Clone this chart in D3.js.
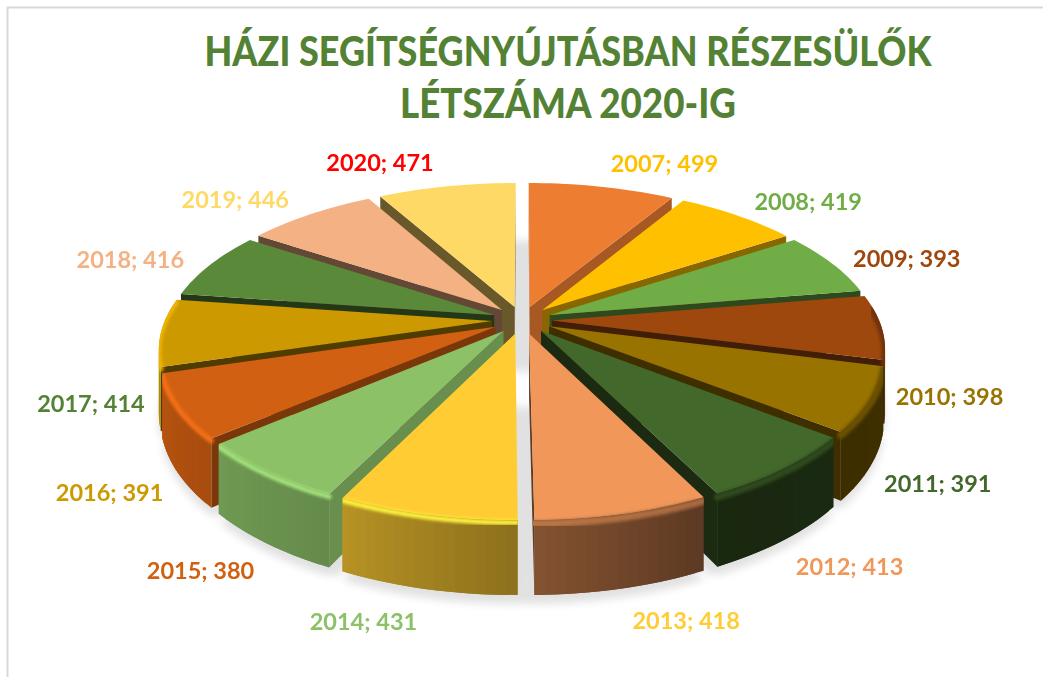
<!DOCTYPE html>
<html><head><meta charset="utf-8">
<script src="https://cdn.jsdelivr.net/npm/d3@7"></script>
<style>html,body{margin:0;padding:0;background:#fff;overflow:hidden}svg{display:block}</style>
</head><body><svg id="c" width="1043" height="677"></svg>
<script>
const titleLines = ["HÁZI SEGÍTSÉGNYÚJTÁSBAN RÉSZESÜLŐK", "LÉTSZÁMA 2020-IG"];
const years = [2007,2008,2009,2010,2011,2012,2013,2014,2015,2016,2017,2018,2019,2020];
const values = [499,419,393,398,391,413,418,431,380,391,414,416,446,471];
const sliceColors = ["#ed7d31","#ffc000","#70ad47","#9e480e","#997300","#43682b","#f1975a","#ffcd33","#8cc168","#d26012","#cc9a00","#5a8a39","#f4b183","#ffd966"];
const labelColors = ["#ffc000","#70ad47","#9e480e","#997300","#43682b","#f1975a","#ffcd33","#8cc168","#d26012","#cc9a00","#548235","#f4b183","#ffd966","#ff0000"];

const svg = d3.select("#c");
const defs = svg.append("defs");
const cx = 522, cy = 320, W = 357, explode = 30, R = W - explode, tilt = 163, persp = 0.187, H = 61;
const deg = 180 / Math.PI, STEP = 1.5 / deg;

const f = defs.append("filter").attr("id","soft").attr("x","-10%").attr("y","-10%").attr("width","120%").attr("height","130%");
f.append("feGaussianBlur").attr("stdDeviation",4);
const b = defs.append("filter").attr("id","bevel").attr("x","-10%").attr("y","-10%").attr("width","120%").attr("height","120%");
b.append("feGaussianBlur").attr("stdDeviation",1.6);

// frame
svg.append("rect").attr("x",7.5).attr("y",7.5).attr("width",1200).attr("height",900)
  .attr("fill","none").attr("stroke","#d9d9d9").attr("stroke-width",2);

// title
const titleWidths = [727, 336];
svg.append("g").selectAll("text").data(titleLines).join("text")
  .attr("x",568).attr("y",(d,i)=>66+i*52).attr("text-anchor","middle")
  .attr("textLength",(d,i)=>titleWidths[i]).attr("lengthAdjust","spacingAndGlyphs")
  .attr("font-family","Lato, 'Noto Sans', sans-serif").attr("font-weight",900).attr("font-size",41)
  .attr("fill","#548235").text(d=>d);

// projection of disc coordinates (u right, v towards viewer) to the picture
function project(u, v, drop) {
  const d = v / W, s = 1 / (1 - persp * d);
  return [cx + u * s, cy + tilt * d * s + (drop || 0) * s];
}
const line = d3.line();
const shade = (c, k) => { const q = d3.rgb(c); return d3.rgb(q.r*k, q.g*k, q.b*k).formatHex(); };
const rimShade = d3.scaleLinear().domain([0,90,154,180,206,230,270,360]).range([.5,.42,.38,.55,.72,.8,.92,.6]).clamp(true);
const startWall = d3.scaleLinear().domain([180,206,229,253,360]).range([.8,.74,.58,.39,.42]).clamp(true);
const endWall = d3.scaleLinear().domain([0,30,56,80,180]).range([.85,.71,.54,.42,.4]).clamp(true);

const arcs = d3.pie().sort(null).value(d=>d)(values).map((a,i)=>{
  const mid = (a.startAngle + a.endAngle) / 2;
  const ax = explode * Math.sin(mid), ay = -explode * Math.cos(mid);
  const rim = d3.range(a.startAngle, a.endAngle, STEP).concat([a.endAngle])
    .map(t => ({t, u: ax + R*Math.sin(t), v: ay - R*Math.cos(t)}));
  return {i, mid, a, ax, ay, rim, color: sliceColors[i]};
});

// shadow dropped on the ground under every slice
const shadow = svg.append("g").attr("filter","url(#soft)").attr("opacity",.12);
arcs.forEach(s=>{
  const pts = [project(s.ax,s.ay,H*1.12)].concat(s.rim.map(p=>project(p.u,p.v,H*1.12)));
  const shift = Math.sin(s.mid) > 0 ? -8 : 8;
  [0, shift].forEach(dx=>shadow.append("path").attr("d",line(pts)+"Z").attr("fill","#000").attr("transform",`translate(${dx},0)`));
});

// slices, painted from back to front
const order = arcs.slice().sort((p,q)=>d3.ascending(-Math.cos(p.mid), -Math.cos(q.mid)));
order.forEach(s=>{
  const g = svg.append("g");
  const topPts = [project(s.ax,s.ay)].concat(s.rim.map(p=>project(p.u,p.v)));
  const clip = defs.append("clipPath").attr("id","clip"+s.i);
  const quad = (p,q)=>[project(p.u,p.v),project(q.u,q.v),project(q.u,q.v,H),project(p.u,p.v,H)];
  const apex = {u:s.ax,v:s.ay};
  const first = s.rim[0], last = s.rim[s.rim.length-1];
  const addWall = (p,q,col,over)=>{
    const pts = quad(p,q);
    if (pts[1][0] - pts[0][0] >= 0) return;   // only faces turned to the viewer
    const full = over ? quad(p,over) : pts;   // overlaps the next strip, so no seams show
    g.append("path").attr("d",line(full)+"Z").attr("fill",col);
    clip.append("path").attr("d",line(full)+"Z");
  };
  addWall(apex, first, shade(s.color, startWall(s.a.startAngle*deg)));
  addWall(last, apex, shade(s.color, endWall(s.a.endAngle*deg)));
  d3.pairs(s.rim).forEach(([p,q],j)=>addWall(p,q,shade(s.color, rimShade((p.t+q.t)/2*deg)), s.rim[Math.min(j+2,s.rim.length-1)]));
  g.append("path").attr("d",line(topPts)+"Z").attr("fill",s.color);
  clip.append("path").attr("d",line(topPts)+"Z");
  // soft bevel along the front part of the rim
  const bev = g.append("g").attr("clip-path","url(#clip"+s.i+")").append("g").attr("filter","url(#bevel)");
  d3.pairs(s.rim).forEach(([p,q])=>{
    const t = (p.t+q.t)/2*deg;
    if (t < 85 || t > 278) return;
    const light = t >= 180;
    const a1 = project(p.u,p.v,light?2:3), a2 = project(q.u,q.v,light?2:3);
    const col = light ? d3.rgb(s.color).brighter(.45).formatHex()
                      : d3.interpolateRgb(s.color, shade(s.color,rimShade(t)))(.5);
    bev.append("line").attr("x1",a1[0]).attr("y1",a1[1]).attr("x2",a2[0]).attr("y2",a2[1])
      .attr("stroke",col).attr("stroke-width",light?5:7).attr("stroke-linecap","round");
  });
});

// data labels: placed outside the rim, below it for the front half
const labelBack = d3.scaleLinear().domain([.847,.88,.935]).range([-23,-14,-5]);
const labelFront = d3.scaleLinear().domain([1,1.22]).range([69,107]);
svg.append("g").selectAll("text").data(arcs).join("text")
  .each(function(s){
    const u = W*Math.sin(s.mid), v = -W*Math.cos(s.mid), d = v/W, sc = 1/(1-persp*d);
    const p = project(u,v), au = Math.abs(Math.sin(s.mid));
    const dx = d < 0 ? (u>0 ? 58+18*au : -(62+19*au)) : (u>0 ? 62+6*au : -(61+9*au));
    d3.select(this).attr("x",p[0]+dx).attr("y",p[1]+(d>0?labelFront(sc):labelBack(sc))+8);
  })
  .attr("text-anchor","middle")
  .attr("font-family","Lato, 'Noto Sans', sans-serif").attr("font-weight",700).attr("font-size",23.5)
  .attr("fill",s=>labelColors[s.i]).text(s=>years[s.i]+"; "+values[s.i]);
</script></body></html>
